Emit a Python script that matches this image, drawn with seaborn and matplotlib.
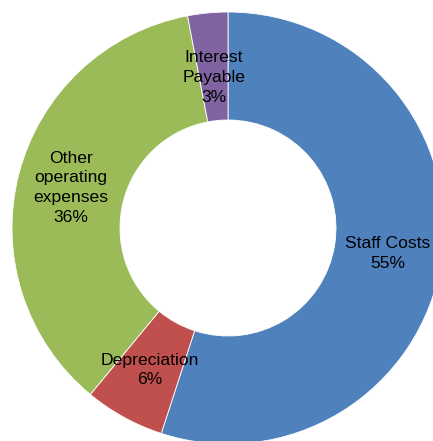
import numpy as np
import matplotlib
matplotlib.use("Agg")
import matplotlib.pyplot as plt
import seaborn as sns

categories = ["Staff Costs", "Depreciation", "Other\noperating\nexpenses", "Interest\nPayable"]
values = [55, 6, 36, 3]
colors = ["#4F81BD", "#C0504D", "#9BBB59", "#8064A2"]
label_radius = [0.75, 0.75, 0.75, 0.70]

sns.set_style("white")
plt.rcParams['font.family'] = ['Liberation Sans', 'DejaVu Sans']

fig = plt.figure(figsize=(4.33, 4.41), dpi=100)
ax = fig.add_axes([12 / 433, -3 / 441, 432 / 433, 432 / 441])
wedges, _ = ax.pie(values, colors=colors, startangle=90, counterclock=False,
                   radius=1.0, wedgeprops=dict(width=0.5, edgecolor="white", linewidth=0.6))
total = sum(values)
for w, cat, v, r in zip(wedges, categories, values, label_radius):
    ang = np.deg2rad((w.theta1 + w.theta2) / 2)
    x, y = r * np.cos(ang), r * np.sin(ang)
    ax.text(x, y, f"{cat}\n{round(100 * v / total)}%", ha="center", va="center",
            fontsize=12.6, color="black", linespacing=1.38)
ax.set_xlim(-1, 1)
ax.set_ylim(-1, 1)
ax.set_aspect("equal")
ax.axis("off")
fig.savefig("out.png", dpi=100, facecolor="white")
